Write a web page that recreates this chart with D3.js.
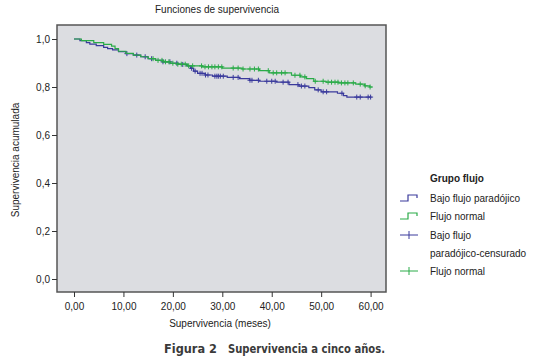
<!DOCTYPE html>
<html>
<head>
<meta charset="utf-8">
<script src="https://cdn.jsdelivr.net/npm/d3@7"></script>
<style>
  body { margin: 0; background: #fff; }
  text { font-family: "Liberation Sans", Arial, sans-serif; fill: #222; }
</style>
</head>
<body>
<div id="chart"></div>
<script>
// Kaplan-Meier survival curves, two groups

// event times (months) and cumulative survival after each step
const bajoTimes = [0, 1.2, 2.5, 3.2, 4.5, 6.0, 6.8, 7.8, 9.0, 10.5, 12.0, 13.5, 15.0, 16.5, 18.0, 19.5, 21.0, 22.8, 23.6, 24.2, 25.0, 26.5, 28.0, 31.0, 33.5, 35.5, 37.5, 41.0, 43.5, 45.5, 47.5, 48.7, 50.0, 53.3, 54.5, 55.2];
const bajoSurv = [1.0, 0.993, 0.985, 0.979, 0.972, 0.965, 0.960, 0.955, 0.947, 0.939, 0.933, 0.926, 0.918, 0.911, 0.905, 0.899, 0.894, 0.888, 0.878, 0.866, 0.857, 0.850, 0.845, 0.840, 0.835, 0.828, 0.824, 0.820, 0.810, 0.804, 0.797, 0.788, 0.780, 0.774, 0.764, 0.758];
const bajoEnd = 60.2;
const bajoCensored = [10.7, 12.7, 14.4, 15.7, 18.0, 19.4, 20.8, 22.0, 23.8, 24.5, 25.5, 25.9, 26.6, 27.1, 28.5, 28.9, 29.2, 29.6, 30.2, 32.2, 33.2, 35.6, 36.0, 37.3, 39.0, 40.0, 40.7, 42.3, 43.3, 45.3, 46.0, 46.7, 49.4, 50.4, 51.1, 54.2, 57.2, 57.9, 59.5, 60.0];

const normalTimes = [0, 1.5, 4.0, 6.0, 7.6, 8.3, 9.0, 10.5, 12.0, 13.5, 15.0, 16.5, 18.0, 19.5, 21.0, 23.0, 26.0, 30.0, 34.0, 37.5, 39.5, 44.0, 45.8, 47.0, 48.5, 51.0, 53.5, 57.0, 58.8, 59.8];
const normalSurv = [1.0, 0.993, 0.985, 0.978, 0.970, 0.960, 0.949, 0.940, 0.933, 0.926, 0.918, 0.911, 0.905, 0.899, 0.895, 0.888, 0.884, 0.879, 0.875, 0.868, 0.859, 0.849, 0.842, 0.835, 0.824, 0.820, 0.817, 0.812, 0.805, 0.800];
const normalEnd = 60.4;
const normalCensored = [16.0, 17.0, 17.8, 18.5, 19.2, 20.0, 21.0, 21.7, 22.5, 23.2, 24.0, 25.8, 26.5, 27.2, 27.9, 28.5, 29.2, 29.9, 32.2, 33.2, 34.2, 35.6, 36.5, 37.3, 39.3, 40.3, 41.0, 42.0, 42.7, 44.7, 45.7, 46.7, 48.8, 50.4, 51.4, 52.1, 52.8, 53.4, 54.1, 54.8, 55.4, 56.5, 57.9, 58.9, 59.9];

const xTicks = [0, 10, 20, 30, 40, 50, 60];
const yTicks = [0, 0.2, 0.4, 0.6, 0.8, 1.0];

const legendLabels = ['Bajo flujo paradójico', 'Flujo normal', ['Bajo flujo', 'paradójico-censurado'], 'Flujo normal'];

const blue = '#3a3a9c';
const green = '#2aab48';

// Layout
const width = 544, height = 363;
const plot = { left: 57, top: 25, right: 386, bottom: 292 };

const svg = d3.select('#chart')
    .append('svg')
    .attr('width', width)
    .attr('height', height);

const x = d3.scaleLinear().domain([0, 60]).range([74, 370.6]);
const y = d3.scaleLinear().domain([0, 1]).range([279, 39]);

// Title
svg.append('text')
    .attr('x', 217).attr('y', 13)
    .attr('text-anchor', 'middle')
    .style('font-size', '10px')
    .text('Funciones de supervivencia');

// Plot background / frame
svg.append('rect')
    .attr('x', plot.left).attr('y', plot.top)
    .attr('width', plot.right - plot.left)
    .attr('height', plot.bottom - plot.top)
    .attr('fill', '#dcdde1')
    .attr('stroke', '#555')
    .attr('stroke-width', 1.5);

// Y axis
const yAxis = svg.append('g')
    .attr('transform', `translate(${plot.left},0)`)
    .call(d3.axisLeft(y).tickValues(yTicks).tickSize(5).tickPadding(2)
        .tickFormat(d => d3.format('.1f')(d).replace('.', ',')));
yAxis.select('.domain').remove();
yAxis.selectAll('line').attr('stroke', '#333');
yAxis.selectAll('text').style('font-size', '10px').style('font-family', '"Liberation Sans", Arial, sans-serif').attr('fill', '#222');

// X axis
const xAxis = svg.append('g')
    .attr('transform', `translate(0,${plot.bottom})`)
    .call(d3.axisBottom(x).tickValues(xTicks).tickSize(5).tickPadding(6)
        .tickFormat(d => d3.format('.2f')(d).replace('.', ',')));
xAxis.select('.domain').remove();
xAxis.selectAll('line').attr('stroke', '#333');
xAxis.selectAll('text').style('font-size', '10px').style('font-family', '"Liberation Sans", Arial, sans-serif').attr('fill', '#222');

// Axis titles
svg.append('text')
    .attr('x', 220).attr('y', 327)
    .attr('text-anchor', 'middle')
    .style('font-size', '10px')
    .text('Supervivencia (meses)');

svg.append('text')
    .attr('transform', 'translate(19,160) rotate(-90)')
    .attr('text-anchor', 'middle')
    .style('font-size', '10px')
    .text('Supervivencia acumulada');

// Survival curves
const line = d3.line()
    .x(d => x(d[0]))
    .y(d => y(d[1]))
    .curve(d3.curveStepAfter);

function stepPoints(times, surv, end) {
    const pts = times.map((t, i) => [t, surv[i]]);
    pts.push([end, surv[surv.length - 1]]);
    return pts;
}

function survAt(times, surv, t) {
    const i = d3.bisectRight(times, t) - 1;
    return surv[Math.max(0, i)];
}

const series = [
    { times: bajoTimes, surv: bajoSurv, end: bajoEnd, cens: bajoCensored, color: blue },
    { times: normalTimes, surv: normalSurv, end: normalEnd, cens: normalCensored, color: green }
];

series.forEach(s => {
    svg.append('path')
        .datum(stepPoints(s.times, s.surv, s.end))
        .attr('fill', 'none')
        .attr('stroke', s.color)
        .attr('stroke-width', 1.2)
        .attr('d', line);

    // censored marks
    svg.append('g')
        .selectAll('path')
        .data(s.cens)
        .enter()
        .append('path')
        .attr('d', d => {
            const cx = x(d), cy = y(survAt(s.times, s.surv, d));
            return `M${cx - 2.5},${cy}H${cx + 2.5}M${cx},${cy - 2.5}V${cy + 2.5}`;
        })
        .attr('stroke', s.color)
        .attr('stroke-width', 1);
});

// Legend
const legend = svg.append('g').attr('transform', 'translate(400,0)');

legend.append('text')
    .attr('x', 30).attr('y', 182)
    .style('font-size', '10px')
    .style('font-weight', 'bold')
    .text('Grupo flujo');

const rowY = [198, 216, 235, 271];
const legendColors = [blue, green, blue, green];

legendLabels.forEach((lab, i) => {
    const cy = rowY[i];
    const g = legend.append('g');
    if (i < 2) {
        g.append('path')
            .attr('d', `M0,${cy + 3}H8V${cy - 3}H17V${cy}`)
            .attr('fill', 'none')
            .attr('stroke', legendColors[i])
            .attr('stroke-width', 1.2);
    } else {
        g.append('path')
            .attr('d', `M0,${cy}H18M9,${cy - 4}V${cy + 4}`)
            .attr('stroke', legendColors[i])
            .attr('stroke-width', 1);
    }
    const lines = Array.isArray(lab) ? lab : [lab];
    lines.forEach((t, j) => {
        g.append('text')
            .attr('x', 30).attr('y', cy + 4 + j * 18)
            .style('font-size', '10px')
            .text(t);
    });
});

// Figure caption
const caption = svg.append('g');
caption.append('text')
    .attr('x', 164).attr('y', 353)
    .attr('textLength', 53)
    .attr('lengthAdjust', 'spacingAndGlyphs')
    .style('font-family', '"DejaVu Sans Condensed", "DejaVu Sans", sans-serif')
    .style('font-size', '12px')
    .style('font-weight', 'bold')
    .style('fill', '#3a3a3a')
    .text('Figura 2');
caption.append('text')
    .attr('x', 228).attr('y', 353)
    .attr('textLength', 157)
    .attr('lengthAdjust', 'spacingAndGlyphs')
    .style('font-family', '"DejaVu Sans Condensed", "DejaVu Sans", sans-serif')
    .style('font-size', '12px')
    .style('font-weight', 'bold')
    .style('fill', '#3a3a3a')
    .text('Supervivencia a cinco años.');
</script>
</body>
</html>
